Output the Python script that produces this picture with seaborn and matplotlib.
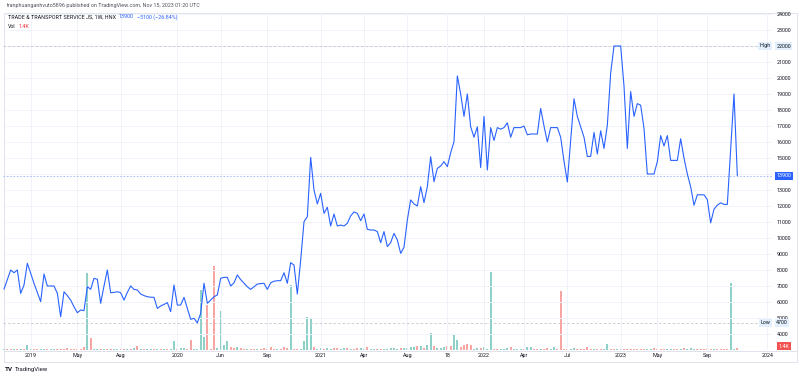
import numpy as np
import pandas as pd
import seaborn as sns
import matplotlib.pyplot as plt
from matplotlib.lines import Line2D
from matplotlib.transforms import blended_transform_factory

# ---------------- data (weekly closes in thousand VND, volume in K) -------------
close_k = [
    6.8, 7.4, 8.0, 7.83, 8.0, 6.54, 7.06, 8.42, 7.8, 7.17,
    6.6, 6.02, 7.75, 7.0, 7.0, 7.0, 6.54, 5.08, 6.64, 6.4,
    6.12, 5.7, 5.33, 5.5, 5.46, 6.96, 6.79, 7.48, 7.42, 5.92,
    7.0, 8.0, 6.58, 6.6, 6.64, 6.58, 6.12, 6.6, 7.0, 6.79,
    6.75, 6.5, 6.4, 6.33, 6.3, 6.29, 5.6, 5.75, 5.85, 5.96,
    5.4, 7.06, 5.81, 5.81, 6.29, 5.6, 4.92, 4.98, 4.7, 5.29,
    7.17, 5.92, 6.12, 6.33, 6.44, 7.48, 7.54, 7.54, 7.0, 7.2,
    7.69, 7.4, 7.17, 6.95, 6.79, 6.95, 7.12, 7.15, 7.17, 6.79,
    7.2, 7.3, 7.33, 7.33, 7.83, 7.17, 8.46, 8.31, 6.5, 8.6,
    11.02, 11.33, 15.04, 13.0, 12.13, 12.79, 11.54, 11.92, 10.75, 11.5,
    10.75, 10.81, 10.75, 10.92, 11.38, 11.63, 11.54, 11.08, 11.5, 10.54,
    10.5, 10.5, 10.4, 9.71, 10.4, 9.46, 9.71, 10.29, 9.88, 9.04,
    9.42, 11.13, 12.38, 12.13, 12.0, 13.21, 12.21, 13.21, 15.08, 13.52,
    14.35, 14.5, 14.77, 14.46, 15.33, 16.02, 20.13,
    19.0, 17.6, 19.0, 16.95, 16.3, 16.95, 14.4, 17.6, 14.25, 16.9,
    16.1, 16.9, 16.8, 16.9, 17.2, 16.3, 16.9, 16.9, 16.9, 17.0,
    16.45, 16.5, 16.5, 16.5, 18.1, 17.0, 16.0, 16.9, 16.9, 16.9,
    16.3, 14.8, 13.5, 16.1, 18.7, 17.6, 16.95, 16.3, 15.1, 15.1,
    16.6, 15.25, 16.7, 15.6, 17.05, 20.3, 22.0, 22.0, 22.0, 19.5,
    15.6, 19.15, 17.6, 18.4, 18.3, 16.85, 14.0, 14.0, 14.0, 14.77,
    16.4, 15.75, 16.4, 14.85, 14.85, 14.85, 16.2, 15.0, 14.0, 13.2,
    12.05, 12.7, 12.7, 12.7, 12.4, 10.95, 11.8, 12.05, 12.2, 12.1,
    12.1, 15.5, 19.0, 13.9,
]

volume_k = [
    0.7, 0.7, 0.7, 0.7, 0.7, 0.7, 0.7, 3.5, 0.7, 0.7,
    0.7, 0.7, 0.7, 0.7, 0.7, 0.7, 0.7, 0.7, 0.7, 1.4,
    0.7, 0.7, 0.7, 1.0, 2.1, 53.9, 8.4, 0.7, 0.7, 0.7,
    0.7, 0.7, 0.7, 0.7, 0.7, 0.7, 0.7, 0.7, 0.7, 1.4,
    2.8, 0.7, 0.7, 0.7, 1.0, 0.7, 0.7, 0.7, 0.7, 0.7,
    0.7, 6.3, 0.7, 1.4, 1.4, 0.7, 7.0, 0.7, 0.7, 42.0,
    9.1, 31.5, 0.7, 58.8, 1.4, 27.3, 3.5, 6.3, 2.1, 1.4,
    2.1, 1.4, 1.0, 0.7, 1.0, 1.0, 1.0, 1.0, 1.4, 1.0,
    2.1, 1.0, 1.0, 1.0, 2.1, 1.4, 45.5, 1.0, 0.7, 0.7,
    6.3, 23.1, 22.4, 2.1, 0.7, 1.4, 1.0, 1.4, 1.0, 1.4,
    1.4, 1.0, 1.4, 1.4, 1.0, 1.0, 1.4, 1.4, 1.0, 2.1,
    1.0, 1.0, 1.0, 0.7, 1.0, 1.0, 1.4, 1.4, 1.0, 1.4,
    1.4, 1.4, 2.1, 2.1, 2.8, 2.8, 1.4, 3.5, 11.9, 2.8,
    1.4, 1.4, 1.8, 2.8, 2.8, 10.5, 7.0, 1.8, 3.5, 4.2,
    3.5, 1.0, 1.4, 1.4, 1.8, 1.0, 54.6, 1.0, 0.7, 0.7,
    1.0, 1.4, 1.8, 1.0, 1.0, 0.7, 0.7, 1.8, 1.8, 0.7,
    0.7, 0.7, 0.7, 1.4, 0.7, 2.1, 0.7, 41.3, 0.7, 1.0,
    1.0, 1.4, 0.7, 0.7, 0.7, 1.8, 1.0, 0.7, 0.7, 0.7,
    0.7, 4.2, 0.5, 0.5, 0.5, 0.5, 0.5, 0.7, 0.7, 0.7,
    0.5, 0.5, 0.7, 0.7, 0.5, 1.4, 0.7, 0.7, 1.0, 0.5,
    0.7, 0.7, 0.7, 1.0, 1.4, 1.0, 1.4, 1.0, 0.7, 0.7,
    0.7, 0.7, 0.7, 0.7, 1.0, 1.0, 0.7, 0.7, 46.9, 1.0,
    1.4,
]

# u = up week (teal), d = down week (red)
direction_chunks = [
    "uddududuud", "duuduudddd", "ddddduduud", "udduuddudu", "duduududud",
    "uuduudduuu", "uddduuuudd", "uddudduddd", "dduddduddu", "uuuduuduud",
    "duududduud", "uudduuuuud", "uuuududuud", "uuudduuddd", "duuduuuddu",
    "uuduuuduud", "dudduudddd", "uudddddudd", "uudduudddd", "ddduuddddu",
    "udduduuudd", "dddudddduu", "d",
]

tick_bars = [8, 22, 35, 52, 65, 79, 95, 108, 121, 133, 144, 156, 169, 185, 196, 211, 229]
tick_labels = ["2019", "May", "Aug", "2020", "Jun", "Sep", "2021", "Apr", "Aug", "18",
               "2022", "Apr", "Jul", "2023", "May", "Sep", "2024"]
price_ticks = list(range(4000, 24001, 1000))
high_price, low_price, last_price = 22000, 4700, 13900
last_volume_label = "1.4K"

direction = "".join(direction_chunks)
df = pd.DataFrame({
    "bar": np.arange(len(close_k)),
    "close": np.array(close_k) * 1000,
    "vol": volume_k,
    "dir": list(direction),
})

# ---------------- style ----------------
sns.set_theme(style="white")
plt.rcParams["font.family"] = ["Roboto", "DejaVu Sans"]
TXT = "#131722"
GRID = "#f0f3fa"
BLUE = "#2962ff"
FS = 3.9

W, H = 800, 378
fig = plt.figure(figsize=(W / 100, H / 100), dpi=100)
fig.patch.set_facecolor("white")

def fx(px):
    return px / W

def fy(py):
    return 1 - py / H

ax_l, ax_r, ax_t, ax_b = 3, 772, 13, 350
ax = fig.add_axes([fx(ax_l), fy(ax_b), fx(ax_r) - fx(ax_l), fy(ax_t) - fy(ax_b)])
axv = ax.twinx()

sns.barplot(data=df, x="bar", y="vol", hue="dir",
            palette={"u": "#8dd1c9", "d": "#f7a6a4"}, native_scale=True,
            width=0.66, dodge=False, legend=False, errorbar=None,
            saturation=1, linewidth=0, edgecolor="none", ax=axv)
sns.lineplot(data=df, x="bar", y="close", color=BLUE, linewidth=0.8, ax=ax)

ax.set_zorder(2)
axv.set_zorder(1)
ax.patch.set_visible(False)

ax.set_xlim(-0.3, 230.4)
ax.set_ylim(3000, 24062.5)
axv.set_ylim(0, 236)

ax.set_xticks(tick_bars)
ax.set_xticklabels(tick_labels)
ax.set_yticks(price_ticks)
ax.set_yticklabels(["" if t in (14000, 22000) else str(t) for t in price_ticks])
ax.yaxis.tick_right()
ax.tick_params(axis="y", length=0, pad=3.2, labelsize=FS, labelcolor=TXT)
ax.tick_params(axis="x", length=0, pad=2.2, labelsize=FS, labelcolor=TXT)
axv.set_yticks([])
for a in (ax, axv):
    a.set_xlabel("")
    a.set_ylabel("")
    for s in a.spines.values():
        s.set_visible(False)
ax.grid(True, color=GRID, linewidth=0.7)

# reference lines
ax.axhline(high_price, color="#c3c6ce", linewidth=0.6, linestyle=(0, (3, 2.5)), zorder=1)
ax.axhline(low_price, color="#c3c6ce", linewidth=0.6, linestyle=(0, (3, 2.5)), zorder=1)
ax.axhline(last_price, color="#9db5fb", linewidth=0.6, linestyle=(0, (2, 2)), zorder=1)

bt = blended_transform_factory(ax.transAxes, ax.transData)
light = dict(boxstyle="square,pad=0.28", fc="#e3effd", ec="none")
ax.text(1.0055, high_price, str(high_price), transform=bt, ha="left", va="center",
        fontsize=FS, color=TXT, bbox=light, clip_on=False)
ax.text(0.998, high_price, "High", transform=bt, ha="right", va="center",
        fontsize=FS, color=TXT, bbox=light, clip_on=False)
ax.text(1.0055, low_price, str(low_price), transform=bt, ha="left", va="center",
        fontsize=FS, color=TXT, bbox=light, clip_on=False)
ax.text(0.998, low_price, "Low", transform=bt, ha="right", va="center",
        fontsize=FS, color=TXT, bbox=light, clip_on=False)
ax.text(1.0055, last_price, str(last_price), transform=bt, ha="left", va="center",
        fontsize=FS, color="white", bbox=dict(boxstyle="square,pad=0.28", fc=BLUE, ec="none"),
        clip_on=False)
bv = blended_transform_factory(axv.transAxes, axv.transData)
axv.text(1.0085, volume_k[-1] * 0.6, last_volume_label, transform=bv, ha="left", va="bottom",
         fontsize=FS, color="white", bbox=dict(boxstyle="square,pad=0.28", fc="#f05350", ec="none"),
         clip_on=False)

# frame lines
FR = "#e0e3eb"
for (x0, y0, x1, y1) in [(4, 13, 797, 13), (4, 13, 4, 362), (797, 13, 797, 362),
                         (4, 362, 797, 362), (4, 350.5, 797, 350.5)]:
    fig.add_artist(Line2D([fx(x0), fx(x1)], [fy(y0), fy(y1)], color=FR, linewidth=0.7))

# header
fig.text(fx(6), fy(5), "tranphuanganhvuto5896 published on TradingView.com, Nov 15, 2023 01:20 UTC",
         fontsize=FS, color="#50535e", va="center", ha="left")
t1 = fig.text(fx(8), fy(17), "TRADE & TRANSPORT SERVICE JS, 1W, HNX", fontsize=FS,
              color=TXT, va="center", ha="left")
t2 = ax.annotate("13900", xy=(1, 0), xycoords=t1, xytext=(2.2, 0), textcoords="offset points",
                 fontsize=FS, color=BLUE, va="bottom", ha="left", annotation_clip=False)
ax.annotate("\u22125100 (\u221226.84%)", xy=(1, 0), xycoords=t2, xytext=(2.2, 0),
            textcoords="offset points", fontsize=FS, color=BLUE, va="bottom", ha="left",
            annotation_clip=False)
t3 = fig.text(fx(8), fy(27), "Vol", fontsize=FS, color=TXT, va="center", ha="left")
ax.annotate(last_volume_label, xy=(1, 0), xycoords=t3, xytext=(2.2, 0), textcoords="offset points",
            fontsize=FS, color="#f23645", va="bottom", ha="left", annotation_clip=False)

# logo
tv = fig.text(fx(5), fy(369.5), "TV", fontsize=4.6, color=TXT, weight="bold", va="center", ha="left")
ax.annotate("TradingView", xy=(1, 0), xycoords=tv, xytext=(1.5, 0), textcoords="offset points",
            fontsize=4.3, color=TXT, va="bottom", ha="left", annotation_clip=False)

fig.savefig("out.png", dpi=100, facecolor="white")
